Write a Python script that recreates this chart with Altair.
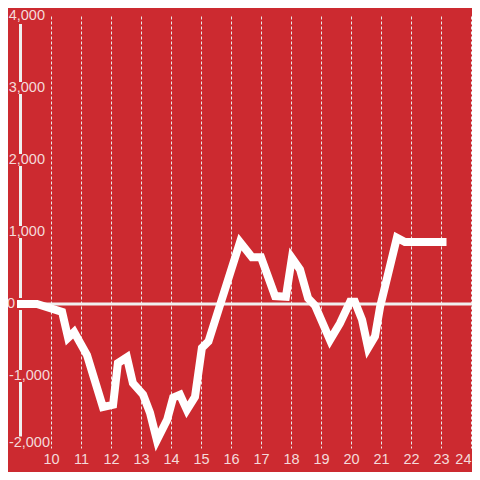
import altair as alt
import pandas as pd

# ---- data ----
x_vals = [9.0, 9.53, 10.37, 10.57, 10.77, 11.2, 11.73, 12.07, 12.23, 12.53, 12.73,
          13.07, 13.3, 13.53, 13.87, 14.07, 14.3, 14.53, 14.8, 15.03, 15.25, 16.3,
          16.7, 17.0, 17.47, 17.83, 18.03, 18.3, 18.57, 18.8, 19.3, 19.63, 19.97,
          20.13, 20.37, 20.57, 20.8, 20.97, 21.53, 21.8, 23.05]
y_vals = [0, 0, -110, -470, -390, -710, -1430, -1400, -820, -740, -1100,
          -1260, -1510, -1890, -1610, -1300, -1260, -1470, -1290, -610, -520, 860,
          650, 650, 110, 100, 640, 480, 80, -20, -500, -270, 30,
          30, -220, -610, -450, -40, 920, 860, 860]

y_ticks = [-2000, -1000, 0, 1000, 2000, 3000, 4000]
y_tick_labels = ["-2,000", "-1,000", "0", "1,000", "2,000", "3,000", "4,000"]
y_grid = [-2000, -1500, -1000, -500, 0, 500, 1000, 1500, 2000, 2500, 3000, 3500, 4000]
x_ticks = [10, 11, 12, 13, 14, 15, 16, 17, 18, 19, 20, 21, 22, 23, 24]

BG = "#cc2a30"
LBL = "#f4dada"
FONT = "Liberation Sans"
FS = 14.5
W, H = 452, 432

df = pd.DataFrame({"x": x_vals, "y": y_vals})
lab = pd.DataFrame({"v": y_ticks, "t": y_tick_labels})

xs = alt.Scale(domain=[8.9667, 24.0333], nice=False, zero=False)
ys = alt.Scale(domain=[-2000, 4000], nice=False, zero=False)

line = alt.Chart(df).mark_line(
    color="#ffffff", strokeWidth=8, strokeCap="square", strokeJoin="miter"
).encode(
    x=alt.X("x:Q", scale=xs, axis=alt.Axis(
        values=x_ticks, format="d", grid=True, gridDash=[3, 2], gridColor="#e8e8e8",
        gridWidth=1, ticks=False, domain=False, labelPadding=4, labelColor=LBL,
        labelFontSize=FS, labelFont=FONT, labelFlush=5, title=None)),
    y=alt.Y("y:Q", scale=ys, axis=alt.Axis(
        values=y_grid, grid=True, gridColor="#c9c9c9", gridWidth=1, labels=False,
        ticks=False, domain=False, title=None)),
)

domain_bar = alt.Chart(pd.DataFrame({"a": [0]})).mark_rule(
    color="#f0f0f0", strokeWidth=3
).encode(x=alt.value(0.5), y=alt.value(8), y2=alt.value(421))

label_bg = alt.Chart(lab).transform_filter("datum.v >= 0").transform_calculate(
    lo="datum.v - 83", hi="datum.v + 83"
).mark_rect(color=BG).encode(
    x=alt.value(-12), x2=alt.value(25),
    y=alt.Y("lo:Q", scale=ys, axis=None), y2="hi:Q",
)

mid_bg = alt.Chart(lab).transform_filter("datum.v == -1000").transform_calculate(
    lo="datum.v - 83", hi="datum.v + 83"
).mark_rect(color=BG).encode(
    x=alt.value(-12), x2=alt.value(30),
    y=alt.Y("lo:Q", scale=ys, axis=None), y2="hi:Q",
)

bottom_bg = alt.Chart(lab).transform_filter("datum.v == -2000").transform_calculate(
    lo="datum.v - 20", hi="datum.v + 160"
).mark_rect(color=BG).encode(
    x=alt.value(-12), x2=alt.value(30),
    y=alt.Y("lo:Q", scale=ys, axis=None), y2="hi:Q",
)

zero_line = alt.Chart(pd.DataFrame({"z": [0]})).mark_rule(
    color="#f0f0f0", strokeWidth=3
).encode(y=alt.Y("z:Q", scale=ys, axis=None), x=alt.value(0), x2=alt.value(W))

pos_labels = alt.Chart(lab).transform_filter("datum.v > 0").mark_text(
    align="right", baseline="middle", fontSize=FS, font=FONT, color=LBL
).encode(y=alt.Y("v:Q", scale=ys, axis=None), x=alt.value(25), text="t:N")

mid_neg_label = alt.Chart(lab).transform_filter("datum.v == -1000").mark_text(
    align="right", baseline="middle", fontSize=FS, font=FONT, color=LBL
).encode(y=alt.Y("v:Q", scale=ys, axis=None), x=alt.value(30), text="t:N")

bottom_label = alt.Chart(lab).transform_filter("datum.v == -2000").mark_text(
    align="right", baseline="middle", fontSize=FS, font=FONT, color=LBL, dy=-5
).encode(y=alt.Y("v:Q", scale=ys, axis=None), x=alt.value(30), text="t:N")

zero_label = alt.Chart(lab).transform_filter("datum.v == 0").mark_text(
    align="right", baseline="middle", fontSize=FS, font=FONT, color=LBL
).encode(y=alt.Y("v:Q", scale=ys, axis=None), x=alt.value(-5), text="t:N")

chart = alt.layer(domain_bar, label_bg, mid_bg, bottom_bg, zero_line, line,
                  pos_labels, mid_neg_label, bottom_label, zero_label).properties(
    width=W, height=H,
    autosize=alt.AutoSizeParams(type="none"),
    padding={"left": 12, "top": 8, "right": 0, "bottom": 24},
    background=BG,
).configure_view(stroke=None)

chart.save("out.html", embed_options={"renderer": "svg", "actions": False})
